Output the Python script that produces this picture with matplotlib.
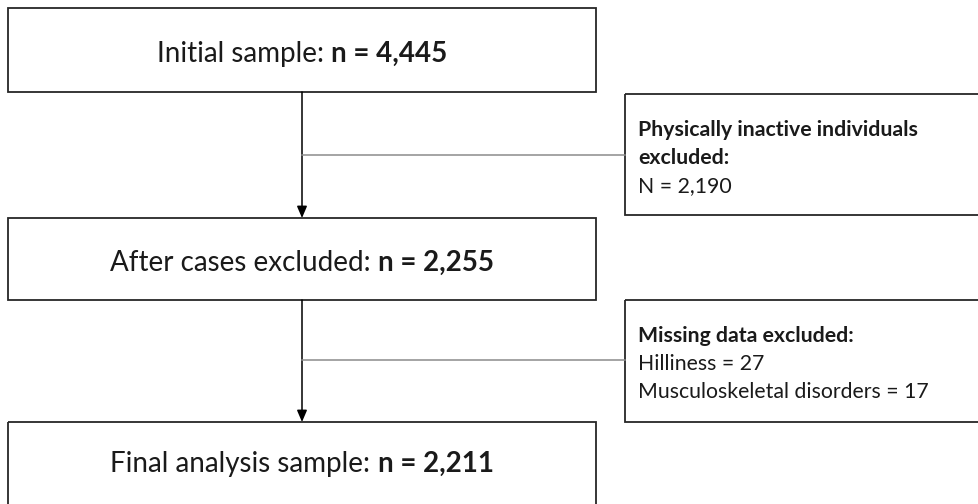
import matplotlib
matplotlib.use("Agg")
import matplotlib.pyplot as plt
from matplotlib.patches import Rectangle, FancyArrowPatch

plt.rcParams['font.family'] = ['Lato', 'DejaVu Sans']

main_labels = ["Initial sample: ", "After cases excluded: ", "Final analysis sample: "]
main_counts = ["n = 4,445", "n = 2,255", "n = 2,211"]
side_titles = ["Physically inactive individuals\nexcluded:", "Missing data excluded:"]
side_lines = [["N = 2,190"], ["Hilliness = 27", "Musculoskeletal disorders = 17"]]

W, H = 979, 504
fig = plt.figure(figsize=(W / 100, H / 100), dpi=100)
ax = fig.add_axes([0, 0, 1, 1])
ax.set_xlim(0, W)
ax.set_ylim(H, 0)
ax.axis('off')

# boxes; the last main box and the side boxes run past the picture edge (cropped)
main_boxes = [(8, 8, 596, 92), (8, 218, 596, 300), (8, 422, 596, 512)]
main_baselines = [62, 271, 472]
side_boxes = [(625, 94, 995, 215), (625, 300, 995, 422)]
branch_y = [155, 360]
arrow_x = 302
edge = '#262626'

for (x0, y0, x1, y1) in main_boxes + side_boxes:
    ax.add_patch(Rectangle((x0, y0), x1 - x0, y1 - y0, fill=False,
                           edgecolor=edge, linewidth=1.3, clip_on=True))

for i in range(2):
    y_start = main_boxes[i][3]
    y_end = main_boxes[i + 1][1]
    ax.add_patch(FancyArrowPatch((arrow_x, y_start), (arrow_x, y_end),
                                 arrowstyle='-|>,head_length=7,head_width=3',
                                 mutation_scale=1, color='black', linewidth=1.1,
                                 shrinkA=0, shrinkB=0))
    ax.plot([arrow_x, side_boxes[i][0]], [branch_y[i], branch_y[i]],
            color='#8c8c8c', linewidth=1.1)

# main box texts (normal + bold), centred as a whole
fig.canvas.draw()
renderer = fig.canvas.get_renderer()
fs_main = 20
for (x0, y0, x1, y1), yb, lab, cnt in zip(main_boxes, main_baselines, main_labels, main_counts):
    t1 = ax.text(0, yb, lab, fontsize=fs_main, va='baseline', ha='left', color='#1a1a1a')
    t2 = ax.text(0, yb, cnt, fontsize=fs_main, va='baseline', ha='left',
                 fontweight='bold', color='#1a1a1a')
    w1 = t1.get_window_extent(renderer).width
    w2 = t2.get_window_extent(renderer).width
    start = (x0 + x1) / 2 - (w1 + w2) / 2
    t1.set_x(start)
    t2.set_x(start + w1)

fs_side = 15.3
lh = 28
side_starts = [136, 342]
for i in range(2):
    x = side_boxes[i][0] + 13
    y = side_starts[i]
    for ln in side_titles[i].split("\n"):
        ax.text(x, y, ln, fontsize=fs_side, fontweight='bold', va='baseline',
                ha='left', color='#1a1a1a')
        y += lh
    for ln in side_lines[i]:
        ax.text(x, y, ln, fontsize=fs_side, va='baseline', ha='left', color='#1a1a1a')
        y += lh

fig.savefig("out.png", dpi=100)
